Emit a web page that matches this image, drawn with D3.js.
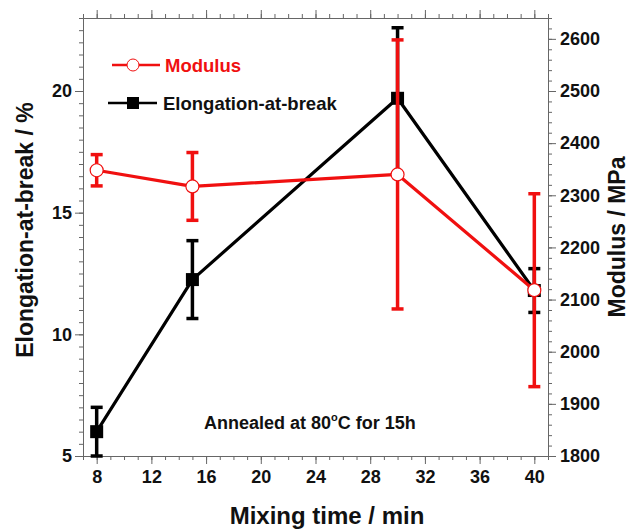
<!DOCTYPE html>
<html>
<head>
<meta charset="utf-8">
<script src="https://cdn.jsdelivr.net/npm/d3@7/dist/d3.min.js"></script>
<style>
  html, body { margin: 0; padding: 0; background: #fff; }
  svg { display: block; font-family: "Liberation Sans", Arial, sans-serif; }
</style>
</head>
<body>
<svg id="chart" width="631" height="530"></svg>
<script>
// Mixing time (min)
const mixingTime = [8, 15, 30, 40];
// Elongation-at-break (%) with lower / upper deviation
const elongation = [6.0, 12.25, 19.7, 11.8];
const elongationErrLow = [1.0, 1.6, 3.1, 0.9];
const elongationErrHigh = [1.0, 1.6, 2.9, 0.9];
// Tensile modulus (MPa) with standard deviation
const modulus = [2348, 2317, 2340, 2118];
const modulusErr = [30, 65, 258, 185];

const xTicks = [8, 12, 16, 20, 24, 28, 32, 36, 40];
const leftTicks = [5, 10, 15, 20];
const rightTicks = [1800, 1900, 2000, 2100, 2200, 2300, 2400, 2500, 2600];

const RED = "#f01010";
const BLACK = "#000";
const AXIS = "#666";

const svg = d3.select("#chart");
const plot = { left: 83, right: 548, top: 18, bottom: 456 };

const x = d3.scaleLinear().domain([7, 41]).range([plot.left, plot.right]);
const yL = d3.scaleLinear().domain([5, 23]).range([plot.bottom, plot.top]);
const yR = d3.scaleLinear().domain([1800, 2640]).range([plot.bottom, plot.top]);

// ---- axes ----
function styleAxis(g) {
  g.select(".domain").attr("stroke", AXIS).attr("stroke-width", 1);
  g.selectAll(".tick line").attr("stroke", AXIS).attr("stroke-width", 1);
  g.selectAll(".tick text")
    .attr("font-size", 18).attr("font-weight", "bold").attr("fill", "#111");
}

// minor ticks
svg.append("g").attr("transform", `translate(0,${plot.bottom})`)
  .call(d3.axisBottom(x).tickValues(d3.range(7, 42, 1)).tickSize(4).tickFormat("").tickSizeOuter(0))
  .call(styleAxis);
svg.append("g").attr("transform", `translate(0,${plot.top})`)
  .call(d3.axisTop(x).tickValues(d3.range(7, 42, 1)).tickSize(4).tickFormat("").tickSizeOuter(0))
  .call(styleAxis);
svg.append("g").attr("transform", `translate(${plot.left},0)`)
  .call(d3.axisLeft(yL).tickValues(d3.range(5, 23.01, 0.5)).tickSize(4).tickFormat("").tickSizeOuter(0))
  .call(styleAxis);
svg.append("g").attr("transform", `translate(${plot.right},0)`)
  .call(d3.axisRight(yR).tickValues(d3.range(1800, 2641, 20)).tickSize(4).tickFormat("").tickSizeOuter(0))
  .call(styleAxis);

// major ticks + labels
svg.append("g").attr("transform", `translate(0,${plot.bottom})`)
  .call(d3.axisBottom(x).tickValues(xTicks).tickSize(8).tickPadding(6).tickFormat(d3.format("d")).tickSizeOuter(0))
  .call(styleAxis);
svg.append("g").attr("transform", `translate(0,${plot.top})`)
  .call(d3.axisTop(x).tickValues(xTicks).tickSize(8).tickFormat("").tickSizeOuter(0))
  .call(styleAxis);
svg.append("g").attr("transform", `translate(${plot.left},0)`)
  .call(d3.axisLeft(yL).tickValues(leftTicks).tickSize(8).tickPadding(3).tickFormat(d3.format("d")).tickSizeOuter(0))
  .call(styleAxis);
svg.append("g").attr("transform", `translate(${plot.right},0)`)
  .call(d3.axisRight(yR).tickValues(rightTicks).tickSize(8).tickPadding(4).tickFormat(d3.format("d")).tickSizeOuter(0))
  .call(styleAxis);

// ---- axis titles ----
svg.append("text")
  .attr("x", 327).attr("y", 524)
  .attr("text-anchor", "middle").attr("font-size", 24).attr("font-weight", "bold")
  .attr("fill", "#111").text("Mixing time / min");
svg.append("text")
  .attr("transform", `translate(33,230) rotate(-90)`)
  .attr("text-anchor", "middle").attr("font-size", 23).attr("font-weight", "bold")
  .attr("fill", "#111").text("Elongation-at-break / %");
svg.append("text")
  .attr("transform", `translate(625,237) rotate(-90)`)
  .attr("text-anchor", "middle").attr("font-size", 23).attr("font-weight", "bold")
  .attr("fill", "#111").text("Modulus / MPa");

// ---- series ----
const capW = 12;
function drawSeries(values, errLow, errHigh, yScale, color, marker) {
  const g = svg.append("g");
  const pts = mixingTime.map((t, i) => ({ t, v: values[i], lo: values[i] - errLow[i], hi: values[i] + errHigh[i] }));
  // error bars
  const eb = g.selectAll(".err").data(pts).join("g");
  eb.append("line")
    .attr("x1", d => x(d.t)).attr("x2", d => x(d.t))
    .attr("y1", d => yScale(d.hi)).attr("y2", d => yScale(d.lo))
    .attr("stroke", color).attr("stroke-width", 3.5);
  ["hi", "lo"].forEach(k => {
    eb.append("line")
      .attr("x1", d => x(d.t) - capW / 2).attr("x2", d => x(d.t) + capW / 2)
      .attr("y1", d => yScale(d[k])).attr("y2", d => yScale(d[k]))
      .attr("stroke", color).attr("stroke-width", 3.5);
  });
  // connecting line
  g.append("path").datum(pts)
    .attr("d", d3.line().x(d => x(d.t)).y(d => yScale(d.v)))
    .attr("fill", "none").attr("stroke", color).attr("stroke-width", 3.2)
    .attr("stroke-linejoin", "round");
  // markers
  if (marker === "square") {
    g.selectAll(".m").data(pts).join("rect")
      .attr("x", d => x(d.t) - 6.5).attr("y", d => yScale(d.v) - 6.5)
      .attr("width", 13).attr("height", 13).attr("fill", color);
  } else {
    g.selectAll(".m").data(pts).join("circle")
      .attr("cx", d => x(d.t)).attr("cy", d => yScale(d.v)).attr("r", 6.5)
      .attr("fill", "#fff").attr("stroke", color).attr("stroke-width", 1.2);
  }
}
drawSeries(elongation, elongationErrLow, elongationErrHigh, yL, BLACK, "square");
drawSeries(modulus, modulusErr, modulusErr, yR, RED, "circle");

// ---- legend ----
const leg = svg.append("g");
leg.append("line").attr("x1", 112).attr("x2", 160).attr("y1", 65).attr("y2", 65)
  .attr("stroke", RED).attr("stroke-width", 2.5);
leg.append("circle").attr("cx", 133).attr("cy", 65).attr("r", 6)
  .attr("fill", "#fff").attr("stroke", RED).attr("stroke-width", 1);
leg.append("text").attr("x", 165).attr("y", 71.5)
  .attr("font-size", 18.5).attr("font-weight", "bold").attr("fill", RED).text("Modulus");
leg.append("line").attr("x1", 108).attr("x2", 157).attr("y1", 103).attr("y2", 103)
  .attr("stroke", BLACK).attr("stroke-width", 2.5);
leg.append("rect").attr("x", 127).attr("y", 97).attr("width", 12).attr("height", 12)
  .attr("fill", BLACK);
leg.append("text").attr("x", 163).attr("y", 109.5)
  .attr("font-size", 18.5).attr("font-weight", "bold").attr("fill", "#111").text("Elongation-at-break");

// ---- annotation ----
const ann = svg.append("text").attr("x", 204).attr("y", 429)
  .attr("font-size", 18).attr("font-weight", "bold").attr("fill", "#111");
ann.append("tspan").text("Annealed at 80");
ann.append("tspan").attr("font-size", 11).attr("dy", -8).text("o");
ann.append("tspan").attr("dy", 8).text("C for 15h");
</script>
</body>
</html>
